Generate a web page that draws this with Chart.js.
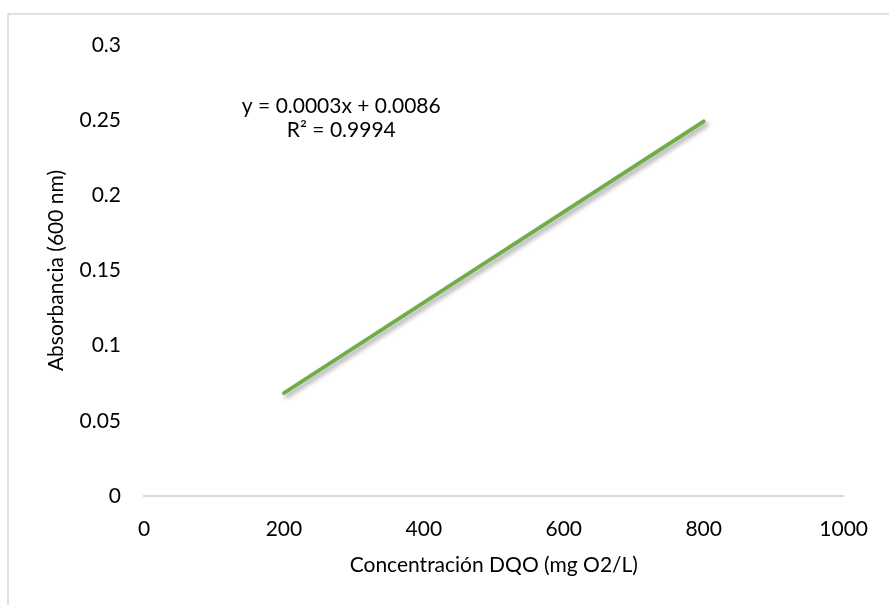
<!DOCTYPE html>
<html>
<head>
<meta charset="utf-8">
<script src="https://cdn.jsdelivr.net/npm/chart.js@4.4.1/dist/chart.umd.min.js"></script>
<style>
  html, body { margin: 0; padding: 0; background: #ffffff; }
  #wrap { width: 889px; height: 605px; position: relative; }
</style>
</head>
<body>
<div id="wrap"><canvas id="chart" width="889" height="605"></canvas></div>
<script>
// Calibration data: COD concentration vs absorbance at 600 nm
const concentrations = [200, 800];
const absorbances = [0.0685, 0.2492];

const xTickLabels = ['0', '200', '400', '600', '800', '1000'];
const yTickLabels = ['0', '0.05', '0.1', '0.15', '0.2', '0.25', '0.3'];

const equationText = 'y = 0.0003x + 0.0086';
const rSquaredText = 'R\u00B2 = 0.9994';
const xAxisTitle = 'Concentración DQO (mg O2/L)';
const yAxisTitle = 'Absorbancia (600 nm)';

const FONT = 'Lato, "Open Sans", sans-serif';
const TEXT_COLOR = '#000000';

// Light frame around the chart object
const framePlugin = {
  id: 'frame',
  beforeDraw(chart) {
    const ctx = chart.ctx;
    ctx.save();
    ctx.fillStyle = '#ffffff';
    ctx.fillRect(0, 0, chart.width, chart.height);
    ctx.strokeStyle = '#d6d6d6';
    ctx.lineWidth = 1.5;
    ctx.beginPath();
    ctx.moveTo(8, chart.height + 2);
    ctx.lineTo(8, 14);
    ctx.lineTo(chart.width + 2, 14);
    ctx.stroke();
    ctx.restore();
  }
};

// Soft drop shadow under the trend line
const shadowPlugin = {
  id: 'lineShadow',
  beforeDatasetDraw(chart) {
    const ctx = chart.ctx;
    ctx.save();
    ctx.shadowColor = 'rgba(0,0,0,0.4)';
    ctx.shadowBlur = 5;
    ctx.shadowOffsetX = 2.5;
    ctx.shadowOffsetY = 3;
  },
  afterDatasetDraw(chart) {
    chart.ctx.restore();
  }
};

// Regression equation and R² label
const equationPlugin = {
  id: 'equation',
  afterDatasetsDraw(chart) {
    const ctx = chart.ctx;
    const x = chart.scales.x.getPixelForValue(282);
    const y = chart.scales.y.getPixelForValue(0.259);
    ctx.save();
    ctx.font = '21px ' + FONT;
    ctx.fillStyle = TEXT_COLOR;
    ctx.textAlign = 'center';
    ctx.textBaseline = 'middle';
    ctx.fillText(equationText, x, y);
    ctx.fillText(rSquaredText, x, y + 24);
    ctx.restore();
  }
};

new Chart(document.getElementById('chart'), {
  type: 'scatter',
  data: {
    datasets: [{
      label: 'Absorbancia',
      data: concentrations.map((c, i) => ({ x: c, y: absorbances[i] })),
      showLine: true,
      borderColor: '#70AD47',
      backgroundColor: '#70AD47',
      borderWidth: 3.8,
      borderCapStyle: 'round',
      pointRadius: 0,
      pointHoverRadius: 0,
      tension: 0
    }]
  },
  options: {
    responsive: false,
    devicePixelRatio: 1,
    animation: false,
    layout: { padding: { left: 0, top: 45, right: 40, bottom: 0 } },
    plugins: {
      legend: { display: false },
      tooltip: { enabled: false }
    },
    scales: {
      x: {
        type: 'linear',
        position: 'bottom',
        min: 0,
        max: 1000,
        afterFit(scale) { scale.height = 109; },
        grid: { display: false, drawTicks: false },
        border: { display: true, color: '#d9d9d9', width: 2 },
        ticks: {
          stepSize: 200,
          padding: 21,
          color: TEXT_COLOR,
          font: { family: FONT, size: 21 },
          maxRotation: 0,
          callback: (v, i) => xTickLabels[i]
        },
        title: {
          display: true,
          text: xAxisTitle,
          color: TEXT_COLOR,
          font: { family: FONT, size: 21 },
          padding: { top: 0, bottom: 27 }
        }
      },
      y: {
        type: 'linear',
        min: 0,
        max: 0.3,
        afterFit(scale) { scale.width = 144; },
        grid: { display: false, drawTicks: false },
        border: { display: false },
        ticks: {
          stepSize: 0.05,
          padding: 23,
          color: TEXT_COLOR,
          font: { family: FONT, size: 21 },
          callback: (v, i) => yTickLabels[i]
        },
        title: {
          display: true,
          text: yAxisTitle,
          color: TEXT_COLOR,
          font: { family: FONT, size: 21 },
          padding: { top: 44, bottom: 0 }
        }
      }
    }
  },
  plugins: [framePlugin, shadowPlugin, equationPlugin]
});
</script>
</body>
</html>
